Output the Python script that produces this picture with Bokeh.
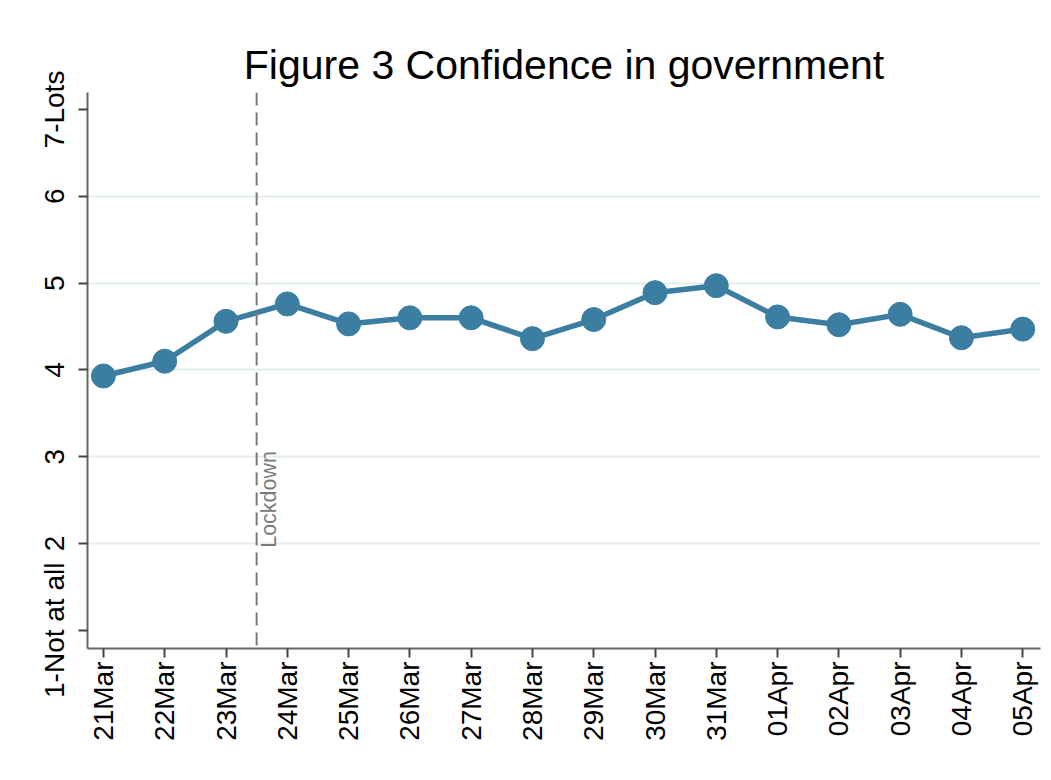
import math
from bokeh.plotting import figure
from bokeh.models import Range1d, FixedTicker, Span, Label, ColumnDataSource
from bokeh.embed import file_html
from bokeh.resources import INLINE

# ---- data ----
dates = ["21Mar", "22Mar", "23Mar", "24Mar", "25Mar", "26Mar", "27Mar", "28Mar",
         "29Mar", "30Mar", "31Mar", "01Apr", "02Apr", "03Apr", "04Apr", "05Apr"]
confidence = [3.93, 4.10, 4.56, 4.76, 4.53, 4.60, 4.60, 4.36,
              4.58, 4.89, 4.97, 4.61, 4.52, 4.64, 4.37, 4.47]
y_ticks = [1, 2, 3, 4, 5, 6, 7]
y_tick_labels = ["1-Not at all", "2", "3", "4", "5", "6", "7-Lots"]
grid_values = [2, 3, 4, 5, 6]
lockdown_pos = 2.5
lockdown_text = "Lockdown"
title_text = "Figure 3 Confidence in government"

FONT = "Liberation Sans"
LINE_COLOR = "#3b7ea1"

idx = list(range(len(dates)))
src = ColumnDataSource(dict(x=idx, y=confidence))

p = figure(width=1050, height=778, output_backend="svg", toolbar_location=None,
           x_range=Range1d(-0.26, 15.29), y_range=Range1d(0.79, 7.196),
           min_border_left=87, min_border_right=10, min_border_top=92,
           min_border_bottom=130)

p.title.text = title_text
p.title.align = "center"
p.title.text_font = FONT
p.title.text_font_size = "41px"
p.title.text_font_style = "normal"
p.title.text_color = "black"

p.outline_line_color = None
p.background_fill_color = "white"
p.border_fill_color = "white"

# x axis
p.xaxis.ticker = FixedTicker(ticks=idx)
p.xaxis.major_label_overrides = {i: d for i, d in zip(idx, dates)}
p.xaxis.major_label_orientation = math.pi / 2
p.xaxis.minor_tick_line_color = None

# y axis
p.yaxis.ticker = FixedTicker(ticks=y_ticks)
p.yaxis.major_label_overrides = {v: t for v, t in zip(y_ticks, y_tick_labels)}
p.yaxis.major_label_orientation = "parallel"
p.yaxis.minor_tick_line_color = None

for ax in (p.xaxis, p.yaxis):
    ax.axis_line_color = "#666666"
    ax.axis_line_width = 2
    ax.major_tick_line_color = "#444444"
    ax.major_tick_line_width = 2
    ax.major_tick_out = 9
    ax.major_tick_in = 0
    ax.major_label_text_font = FONT
    ax.major_label_text_font_size = "28px"
    ax.major_label_text_color = "black"
p.xaxis.major_label_standoff = 4
p.yaxis.major_label_standoff = 8

p.xgrid.grid_line_color = None
p.ygrid.ticker = FixedTicker(ticks=grid_values)
p.ygrid.grid_line_color = "#e4eef1"
p.ygrid.grid_line_width = 2

# lockdown line
span = Span(location=lockdown_pos, dimension="height", line_color="#7a7a7a",
            line_width=2, line_dash="13 7")
p.add_layout(span)
lbl = Label(x=lockdown_pos, y=1.95, text=lockdown_text, angle=math.pi / 2,
            x_offset=0, text_align="left", text_baseline="top",
            text_font=FONT, text_font_size="21.5px", text_color="#7a7a7a")
p.add_layout(lbl)

p.line("x", "y", source=src, line_color=LINE_COLOR, line_width=5.5)
p.scatter("x", "y", source=src, size=24, fill_color=LINE_COLOR, line_color=LINE_COLOR)

open("out.html", "w").write(file_html(p, INLINE))
